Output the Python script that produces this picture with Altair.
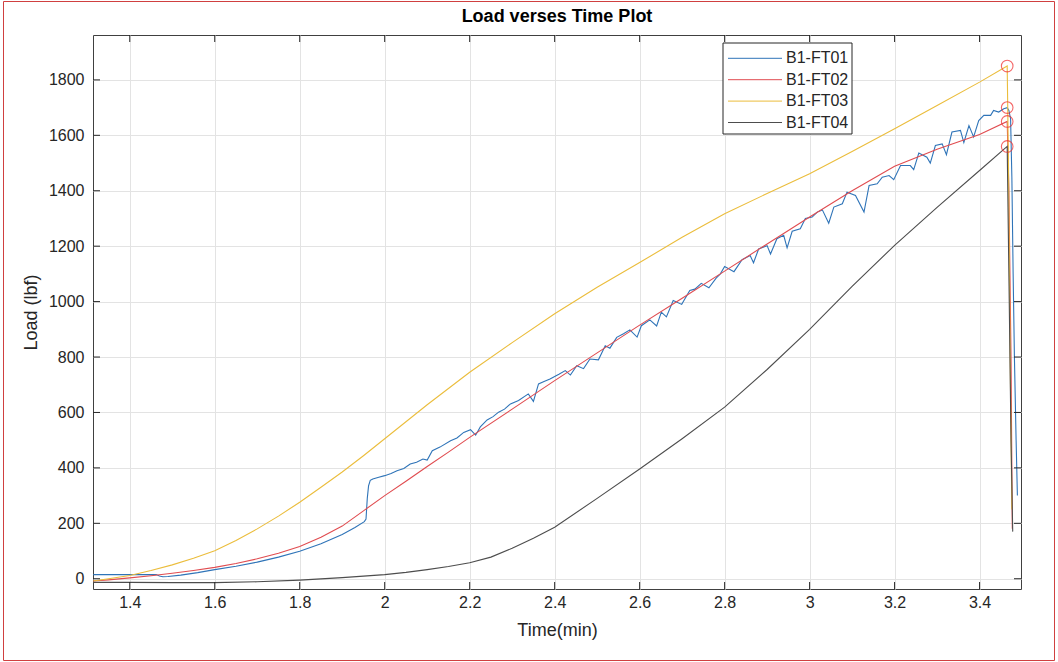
import altair as alt
import pandas as pd

# ---------------- data ----------------
series_names = ["B1-FT01", "B1-FT02", "B1-FT03", "B1-FT04"]
series_colors = ["#2f74b8", "#e04c50", "#ebbd3c", "#4d4d4d"]

ft01_time = [1.314, 1.35, 1.40, 1.45, 1.462, 1.47, 1.478, 1.49, 1.52, 1.56, 1.60, 1.65, 1.70, 1.75,
             1.80, 1.85, 1.90, 1.93, 1.952, 1.956, 1.959, 1.962, 1.966, 1.972, 1.986, 2.00, 2.015,
             2.029, 2.045, 2.06, 2.075, 2.09, 2.10, 2.112, 2.13, 2.155, 2.17, 2.186, 2.202, 2.214,
             2.225, 2.241, 2.255, 2.268, 2.282, 2.296, 2.315, 2.338, 2.35, 2.362, 2.375, 2.389,
             2.41, 2.425, 2.437, 2.452, 2.468, 2.483, 2.503, 2.519, 2.53, 2.546, 2.562, 2.577,
             2.594, 2.604, 2.624, 2.64, 2.651, 2.663, 2.679, 2.699, 2.718, 2.73, 2.745, 2.763,
             2.78, 2.79, 2.80, 2.822, 2.841, 2.86, 2.868, 2.88, 2.90, 2.908, 2.923, 2.939, 2.947,
             2.959, 2.978, 2.99, 3.006, 3.018, 3.03, 3.045, 3.057, 3.077, 3.088, 3.108, 3.128,
             3.14, 3.159, 3.171, 3.187, 3.198, 3.214, 3.237, 3.245, 3.257, 3.276, 3.284, 3.296,
             3.312, 3.322, 3.335, 3.355, 3.363, 3.375, 3.386, 3.398, 3.41, 3.426, 3.433, 3.445,
             3.457, 3.465, 3.469, 3.473, 3.476, 3.479, 3.482, 3.486, 3.489]
ft01_load = [15, 15, 15, 15, 15, 10, 7, 8, 13, 22, 33, 45, 60, 78,
             99, 126, 160, 185, 206, 215, 290, 335, 355, 360, 366, 372, 380,
             390, 398, 414, 420, 432, 428, 462, 475, 498, 508, 528, 538, 518,
             548, 573, 585, 601, 612, 631, 643, 667, 640, 703, 712, 721,
             738, 751, 735, 769, 758, 793, 790, 841, 832, 871, 884, 898,
             872, 913, 934, 912, 962, 945, 1004, 990, 1040, 1045, 1066, 1050,
             1085, 1100, 1127, 1108, 1151, 1166, 1140, 1190, 1202, 1172, 1227, 1239, 1194,
             1254, 1263, 1300, 1305, 1323, 1331, 1283, 1341, 1353, 1395, 1383, 1323,
             1419, 1425, 1449, 1455, 1440, 1491, 1491, 1476, 1536, 1521, 1500, 1563,
             1569, 1530, 1612, 1618, 1574, 1635, 1594, 1653, 1672, 1672, 1690, 1684,
             1696, 1700, 1690, 1660, 1450, 1100, 800, 500, 300]

ft02_time = [1.314, 1.35, 1.40, 1.45, 1.50, 1.55, 1.60, 1.65, 1.70, 1.75, 1.80, 1.85, 1.90, 1.95,
             2.00, 2.05, 2.10, 2.15, 2.20, 2.30, 2.40, 2.50, 2.60, 2.70, 2.80, 2.90, 3.00, 3.10,
             3.20, 3.30, 3.40, 3.465, 3.469, 3.474, 3.477]
ft02_load = [-8, -4, 3, 11, 20, 30, 41, 55, 72, 92, 116, 150, 190, 245,
             300, 352, 405, 457, 510, 612, 715, 815, 915, 1012, 1110, 1208, 1305, 1400,
             1488, 1550, 1603, 1650, 1400, 800, 180]

ft03_time = [1.314, 1.35, 1.40, 1.45, 1.50, 1.55, 1.60, 1.65, 1.70, 1.75, 1.80, 1.85, 1.90, 1.95,
             2.00, 2.10, 2.20, 2.30, 2.40, 2.50, 2.60, 2.70, 2.80, 2.90, 3.00, 3.10, 3.20, 3.30,
             3.40, 3.465, 3.468, 3.472, 3.476]
ft03_load = [-8, 0, 12, 30, 50, 74, 101, 138, 180, 226, 276, 330, 385, 444,
             505, 628, 745, 852, 956, 1052, 1141, 1232, 1317, 1390, 1461, 1542, 1624, 1708,
             1792, 1850, 1500, 800, 250]

ft04_time = [1.314, 1.40, 1.50, 1.60, 1.70, 1.80, 1.90, 2.00, 2.05, 2.10, 2.15, 2.20, 2.25, 2.30,
             2.35, 2.40, 2.50, 2.60, 2.70, 2.80, 2.90, 3.00, 3.10, 3.20, 3.30, 3.40, 3.465,
             3.469, 3.474, 3.478]
ft04_load = [-13, -13, -14, -14, -11, -5, 4, 15, 23, 33, 44, 58, 78, 110,
             146, 186, 290, 396, 505, 619, 755, 900, 1055, 1203, 1340, 1473, 1560,
             1100, 500, 170]

peak_time = [3.465, 3.465, 3.465, 3.465]
peak_load = [1700, 1650, 1850, 1560]

x_ticks = [1.4, 1.6, 1.8, 2.0, 2.2, 2.4, 2.6, 2.8, 3.0, 3.2, 3.4]
y_ticks = [0, 200, 400, 600, 800, 1000, 1200, 1400, 1600, 1800]
x_domain = [1.3135, 3.4975]
y_domain = [-37, 1962]

chart_title = "Load verses Time Plot"

# ---------------- tables ----------------
rows = []
for name, ts, ls in zip(series_names,
                        [ft01_time, ft02_time, ft03_time, ft04_time],
                        [ft01_load, ft02_load, ft03_load, ft04_load]):
    for i, (t, l) in enumerate(zip(ts, ls)):
        rows.append({"Time": t, "Load": l, "Series": name, "idx": i})
lines_df = pd.DataFrame(rows)
peaks_df = pd.DataFrame({"Time": peak_time, "Load": peak_load, "Series": series_names})
xt_df = pd.DataFrame({"Time": x_ticks})
yt_df = pd.DataFrame({"Load": y_ticks})
one_df = pd.DataFrame({"k": [0]})

W, H = 928, 554
FONT = "Liberation Sans"
AX = "#262626"

x_enc = alt.X("Time:Q", scale=alt.Scale(domain=x_domain, nice=False, zero=False),
              axis=alt.Axis(values=x_ticks, format="~g", title="Time(min)", grid=True,
                            ticks=False, tickSize=0, domain=False, labelPadding=5,
                            titlePadding=11, labelFlush=False))
y_enc = alt.Y("Load:Q", scale=alt.Scale(domain=y_domain, nice=False, zero=False),
              axis=alt.Axis(values=y_ticks, format="d", title="Load (lbf)", grid=True,
                            ticks=False, tickSize=0, domain=False, labelPadding=9,
                            titlePadding=8, labelFlush=False))

lines = alt.Chart(lines_df).mark_line(strokeWidth=1.1, clip=True).encode(
    x=x_enc, y=y_enc,
    color=alt.Color("Series:N", scale=alt.Scale(domain=series_names, range=series_colors),
                    legend=None),
    order="idx:Q",
)

peaks = alt.Chart(peaks_df).mark_point(shape="circle", filled=False, size=135,
                                       strokeWidth=1.1, color="#f02828").encode(
    x=x_enc, y=y_enc)

tick_b = alt.Chart(xt_df).mark_rule(color=AX, strokeWidth=1).encode(
    x=x_enc, y=alt.value(H), y2=alt.value(H - 7))
tick_t = alt.Chart(xt_df).mark_rule(color=AX, strokeWidth=1).encode(
    x=x_enc, y=alt.value(0), y2=alt.value(7))
tick_l = alt.Chart(yt_df).mark_rule(color=AX, strokeWidth=1).encode(
    y=y_enc, x=alt.value(0), x2=alt.value(7))
tick_r = alt.Chart(yt_df).mark_rule(color=AX, strokeWidth=1).encode(
    y=y_enc, x=alt.value(W), x2=alt.value(W - 7))

# legend (drawn as a guide box)
leg_x0, leg_y0 = 630, 8
leg_box = alt.Chart(one_df).mark_rect(fill="white", stroke=AX, strokeWidth=1).encode(
    x=alt.value(leg_x0), x2=alt.value(leg_x0 + 129),
    y=alt.value(leg_y0), y2=alt.value(leg_y0 + 91))
leg_layers = [leg_box]
for i, (name, col) in enumerate(zip(series_names, series_colors)):
    yy = leg_y0 + 15.3 + 21.4 * i
    leg_layers.append(alt.Chart(one_df).mark_rule(color=col, strokeWidth=1).encode(
        x=alt.value(leg_x0 + 5), x2=alt.value(leg_x0 + 59), y=alt.value(yy)))
    leg_layers.append(alt.Chart(one_df).mark_text(
        text=name, align="left", baseline="middle", font=FONT, fontSize=16,
        color=AX).encode(x=alt.value(leg_x0 + 63), y=alt.value(yy)))

# chart title, as a text mark so it is placed relative to the plot area
title_mark = alt.Chart(one_df).mark_text(
    text=chart_title, align="center", baseline="alphabetic", font=FONT, fontSize=18,
    fontWeight="bold", color="#000000").encode(x=alt.value(W / 2), y=alt.value(-13))

border = alt.Chart(one_df).mark_rect(fillOpacity=0, stroke="#d04040", strokeWidth=1).encode(
    x=alt.value(-89.5), x2=alt.value(961.5), y=alt.value(-33.5), y2=alt.value(625.5))

chart = alt.layer(lines, peaks, tick_b, tick_t, tick_l, tick_r, *leg_layers,
                  title_mark, border).properties(
    width=W, height=H,
    autosize=alt.AutoSizeParams(type="none"),
    padding={"left": 93, "top": 35, "right": 37, "bottom": 73},
    background="white",
).configure_view(
    stroke="#404040", strokeWidth=1
).configure_axis(
    gridColor="#e3e3e3", gridWidth=1,
    labelFont=FONT, labelFontSize=16, labelColor=AX,
    titleFont=FONT, titleFontSize=18, titleFontWeight="normal", titleColor=AX,
)

chart.save("out.html", embed_options={"renderer": "svg", "actions": False})
